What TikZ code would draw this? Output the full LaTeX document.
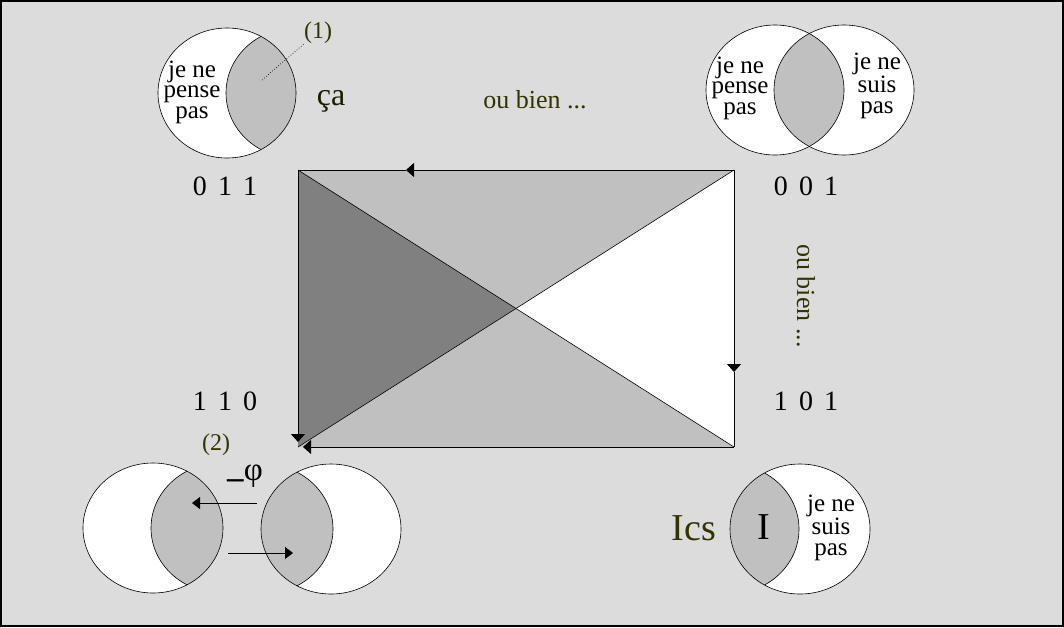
\documentclass[tikz,border=0pt]{standalone}
\usepackage{fontspec}
\setmainfont{Liberation Serif}
\newfontfamily\digitfont[WordSpace=1.6]{Liberation Serif}
\usetikzlibrary{arrows.meta}
\definecolor{bggray}{RGB}{220,220,220}
\definecolor{lensgray}{RGB}{192,192,192}
\definecolor{darkgray}{RGB}{128,128,128}
\definecolor{olivetext}{RGB}{51,51,0}
\definecolor{darkolive}{RGB}{28,28,0}
\tikzset{
  circ/.style={draw=black, line width=0.6pt},
  words/.style={inner sep=0pt, align=center, font=\fontsize{25}{20.5}\selectfont},
  bits/.style={inner sep=0pt, font=\digitfont\fontsize{28}{30}\selectfont},
  olive/.style={inner sep=0pt, text=olivetext},
  edge/.style={draw=black, line width=0.9pt},
  tip/.style={-{Triangle[length=8pt,width=14pt]}},
  smalltip/.style={-{Triangle[length=8pt,width=12pt]}, line width=0.8pt}
}
\begin{document}
\begin{tikzpicture}[x=1pt,y=-1pt]
\useasboundingbox (0,0) rectangle (1064,627);
\fill[bggray] (0,0) rectangle (1064,627);
\draw[black, line width=1.6pt] (1,1) rectangle (1063,626);

% ---------- top-left circle ----------
\coordinate (tlA) at (227,93);
\coordinate (tlB) at (295,93);
\fill[white] (tlA) ellipse [x radius=69pt, y radius=65pt];
\begin{scope}
  \clip (tlA) ellipse [x radius=69pt, y radius=65pt];
  \filldraw[fill=lensgray, circ] (tlB) ellipse [x radius=69pt, y radius=65pt];
\end{scope}
\draw[circ] (tlA) ellipse [x radius=69pt, y radius=65pt];
\node[words] (tltext) at (192,92) {je ne\\pense\\pas};
\node[olive, font=\fontsize{24}{26}\selectfont] (lab1) at (318,33) {(1)};
\coordinate (dotend) at (262,80);
\draw[dotted, line width=0.7pt] (dotend) -- (lab1.south west);
\node[inner sep=0pt, text=darkolive, font=\fontsize{32}{34}\selectfont] (ca) at (331,101) {ça};

% ---------- top-right circles ----------
\coordinate (trA) at (775,90);
\coordinate (trB) at (844,90);
\fill[white] (trA) ellipse [x radius=69pt, y radius=65pt];
\fill[white] (trB) ellipse [x radius=70pt, y radius=65pt];
\begin{scope}
  \clip (trA) ellipse [x radius=69pt, y radius=65pt];
  \fill[lensgray] (trB) ellipse [x radius=70pt, y radius=65pt];
\end{scope}
\draw[circ] (trA) ellipse [x radius=69pt, y radius=65pt];
\draw[circ] (trB) ellipse [x radius=70pt, y radius=65pt];
\node[words] (trtextL) at (740,88) {je ne\\pense\\pas};
\node[words] (trtextR) at (877,86) {je ne\\suis\\pas};

\node[olive, font=\fontsize{26}{28}\selectfont] (oubienH) at (535,100) {ou bien ...};
\node[olive, font=\fontsize{26}{28}\selectfont, rotate=-90] (oubienV) at (806,296) {ou bien ...};

% ---------- bit labels ----------
\node[bits] (b011) at (225,186) {0 1 1};
\node[bits] (b001) at (806,186) {0 0 1};
\node[bits] (b110) at (225,401) {1 1 0};
\node[bits] (b101) at (806,401) {1 0 1};

% ---------- rectangle ----------
\coordinate (TL) at (298,170);
\coordinate (TR) at (734,170);
\coordinate (BR) at (734,447);
\coordinate (BL) at (298,447);
\coordinate (C) at (516,308.5);
\fill[lensgray] (TL) -- (TR) -- (C) -- cycle;
\fill[darkgray] (TL) -- (C) -- (BL) -- cycle;
\fill[lensgray] (BL) -- (C) -- (BR) -- cycle;
\fill[white] (TR) -- (BR) -- (C) -- cycle;
\draw[black, line width=0.6pt] (TL) -- (BR);
\draw[black, line width=0.6pt] (TR) -- (BL);
\coordinate (mTop) at (406,170);
\coordinate (mRight) at (734,372);
\coordinate (mLeft) at (298,442);
\coordinate (mBottom) at (303,447);
\draw[edge, tip] (TR) -- (mTop);
\draw[edge] (mTop) -- (TL);
\draw[edge, tip] (TR) -- (mRight);
\draw[edge] (mRight) -- (BR);
\draw[edge, tip] (TL) -- (mLeft);
\draw[edge, tip] (BR) -- (mBottom);

% ---------- bottom-left circles ----------
\coordinate (blA) at (153,528);
\coordinate (blB) at (221,528);
\coordinate (brA) at (331,529);
\coordinate (brB) at (263,529);
\fill[white] (blA) ellipse [x radius=70pt, y radius=65pt];
\begin{scope}
  \clip (blA) ellipse [x radius=70pt, y radius=65pt];
  \filldraw[fill=lensgray, circ] (blB) ellipse [x radius=70pt, y radius=65pt];
\end{scope}
\draw[circ] (blA) ellipse [x radius=70pt, y radius=65pt];
\fill[white] (brA) ellipse [x radius=70pt, y radius=65pt];
\begin{scope}
  \clip (brA) ellipse [x radius=70pt, y radius=65pt];
  \filldraw[fill=lensgray, circ] (brB) ellipse [x radius=70pt, y radius=65pt];
\end{scope}
\draw[circ] (brA) ellipse [x radius=70pt, y radius=65pt];
\node[olive, font=\fontsize{24}{26}\selectfont] (lab2) at (216,445) {(2)};
\node[inner sep=0pt, font=\fontsize{33}{35}\selectfont] (phi) at (245,477) {\raisebox{-8pt}{\textbf{–}}φ};
\coordinate (a1s) at (257,503);
\coordinate (a1e) at (192,503);
\coordinate (a2s) at (228,553);
\coordinate (a2e) at (293,553);
\draw[smalltip] (a1s) -- (a1e);
\draw[smalltip] (a2s) -- (a2e);

% ---------- bottom-right circle ----------
\coordinate (icA) at (800,529);
\coordinate (icB) at (729,529);
\fill[white] (icA) ellipse [x radius=70pt, y radius=65pt];
\begin{scope}
  \clip (icA) ellipse [x radius=70pt, y radius=65pt];
  \filldraw[fill=lensgray, circ] (icB) ellipse [x radius=70pt, y radius=65pt];
\end{scope}
\draw[circ] (icA) ellipse [x radius=70pt, y radius=65pt];
\node[inner sep=0pt, font=\fontsize{38}{40}\selectfont] (Ilab) at (764,527) {I};
\node[olive, font=\fontsize{38}{40}\selectfont] (Ics) at (694,528) {Ics};
\node[words] (brtext) at (831,528) {je ne\\suis\\pas};
\end{tikzpicture}
\end{document}
